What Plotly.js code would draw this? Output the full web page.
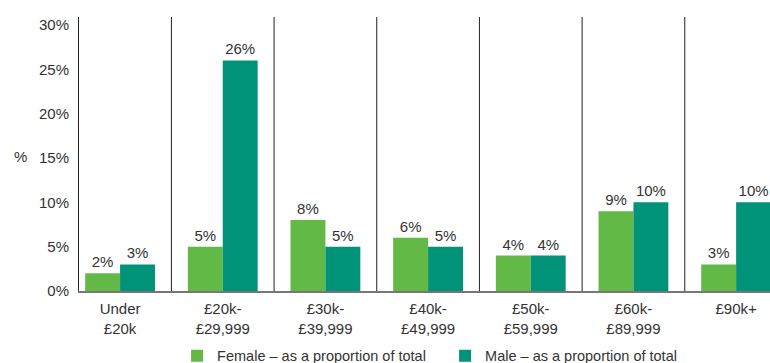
<!DOCTYPE html>
<html>
<head>
<meta charset="utf-8">
<script src="https://cdn.plot.ly/plotly-3.0.1.min.js"></script>
<style>html,body{margin:0;padding:0;background:#fff;}#chart{width:770px;height:363px;}</style>
</head>
<body>
<div id="chart"></div>
<script>
const categories = ["Under<br>£20k", "£20k-<br>£29,999", "£30k-<br>£39,999", "£40k-<br>£49,999", "£50k-<br>£59,999", "£60k-<br>£89,999", "£90k+"];
const femaleValues = [2, 5, 8, 6, 4, 9, 3];
const maleValues = [3, 26, 5, 5, 4, 10, 10];
const seriesNames = ["Female – as a proportion of total", "Male – as a proportion of total"];
const yTickVals = [0, 5, 10, 15, 20, 25, 30];
const yTickText = ["0%", "5%", "10%", "15%", "20%", "25%", "30%"];

const idx = categories.map((c, i) => i);
const font = {family: "Liberation Sans, Arial, sans-serif", size: 15, color: "#333"};

const female = {
  type: "bar", x: idx, y: femaleValues, name: seriesNames[0],
  marker: {color: "#62b946"},
  text: femaleValues.map(v => v + "%"), textposition: "outside", cliponaxis: false,
  textfont: font
};
const male = {
  type: "bar", x: idx, y: maleValues, name: seriesNames[1],
  marker: {color: "#00937a"},
  text: maleValues.map(v => v + "%"), textposition: "outside", cliponaxis: false,
  textfont: font
};

const shapes = idx.slice(0, -1).map(i => ({
  type: "line", xref: "x", yref: "paper", x0: i + 0.5, x1: i + 0.5, y0: 0, y1: 1,
  line: {color: "#222", width: 1}
}));

const layout = {
  width: 770, height: 363,
  margin: {l: 79, r: 0, t: 17, b: 72, autoexpand: false},
  paper_bgcolor: "#fff", plot_bgcolor: "#fff",
  font: font,
  barmode: "group", bargap: 0.32, bargroupgap: 0,
  showlegend: true,
  legend: {orientation: "h", xref: "container", yref: "container", x: 0.23, xanchor: "left",
           y: 0.02, yanchor: "middle", font: {family: font.family, size: 14.5, color: "#333"},
           entrywidth: 223, entrywidthmode: "pixels", traceorder: "normal", itemwidth: 30},
  xaxis: {
    range: [-0.4, 6.33], tickmode: "array", tickvals: idx, ticktext: categories,
    showgrid: false, zeroline: false, showline: true, linecolor: "#777", linewidth: 2,
    ticks: "", ticklabelstandoff: 3, tickfont: font, fixedrange: true
  },
  yaxis: {
    range: [0, 30.9], tickmode: "array", tickvals: yTickVals, ticktext: yTickText,
    showgrid: false, zeroline: false, showline: true, linecolor: "#222", linewidth: 1,
    ticks: "", ticklen: 0, ticklabelstandoff: 6, tickfont: font, fixedrange: true
  },
  shapes: shapes,
  annotations: [{
    text: "%", xref: "paper", yref: "paper", x: -0.085, y: 0.49, showarrow: false,
    font: font, xanchor: "center", yanchor: "middle"
  }]
};

Plotly.newPlot("chart", [female, male], layout, {displayModeBar: false, staticPlot: true});
</script>
</body>
</html>
